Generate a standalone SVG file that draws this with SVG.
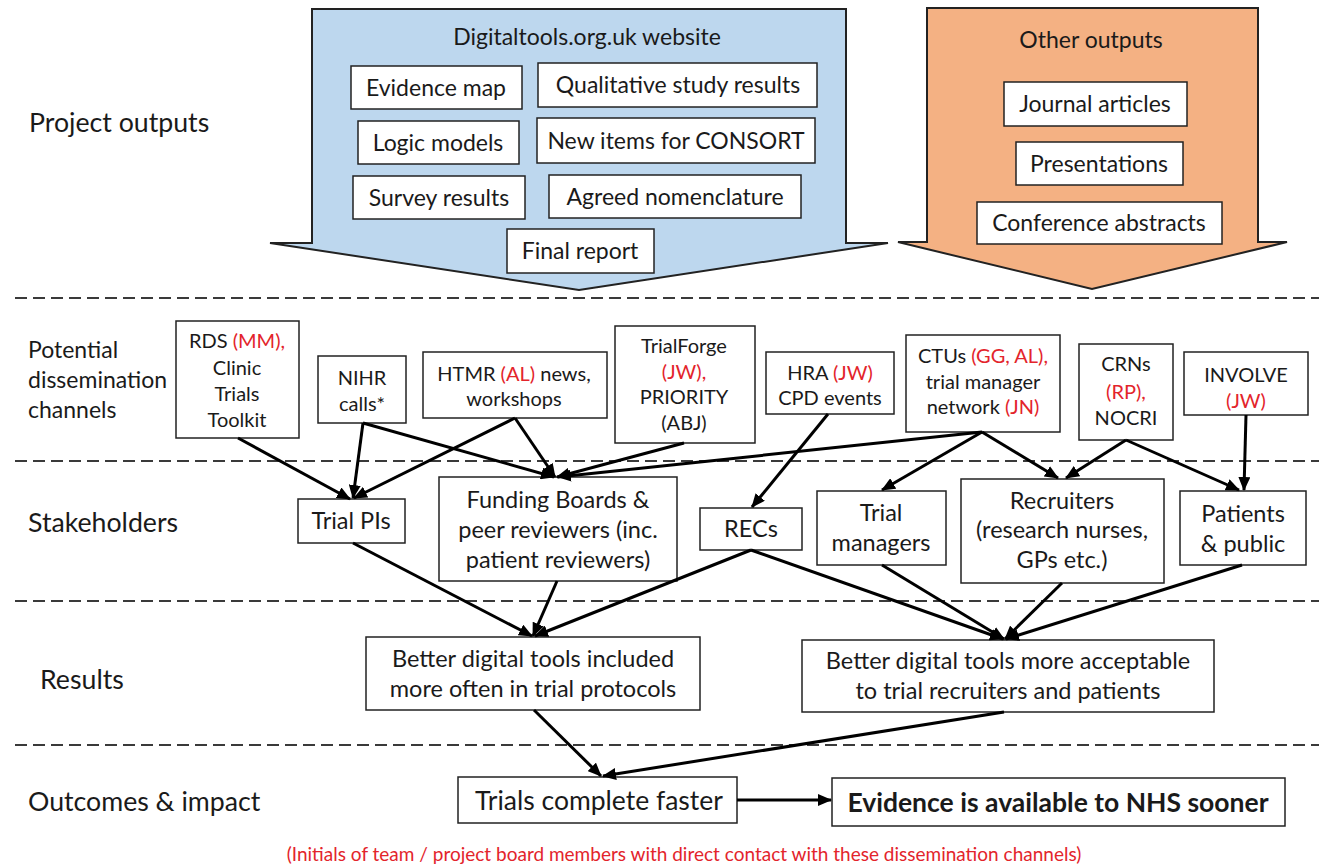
<svg xmlns="http://www.w3.org/2000/svg" width="1319" height="866" viewBox="0 0 1319 866">
<defs>
<marker id="ah" markerUnits="userSpaceOnUse" markerWidth="14" markerHeight="12" refX="13" refY="6" orient="auto">
<path d="M0,0 L14,6 L0,12 Z" fill="#000"/>
</marker>
<style>
text{font-family:Lato,"Liberation Sans",sans-serif;fill:#1a1a1a;text-anchor:middle}
.lbl{text-anchor:start;font-size:26.7px}
.box{fill:#fff;stroke:#222;stroke-width:1.5}
.t23{font-size:23px}
.t20{font-size:20px}
.t235{font-size:23.5px}
.red{fill:#e3242b}
.dash{stroke:#3a3a3a;stroke-width:2;stroke-dasharray:12 6;fill:none}
.con line{stroke:#000;stroke-width:3;marker-end:url(#ah)}
</style>
</defs>
<rect width="1319" height="866" fill="#fff"/>

<g id="dividers">
<line class="dash" x1="15" y1="298" x2="1319" y2="298"/>
<line class="dash" x1="15" y1="461" x2="1319" y2="461"/>
<line class="dash" x1="15" y1="601" x2="1319" y2="601"/>
<line class="dash" x1="15" y1="745" x2="1319" y2="745"/>
</g>

<g id="row-labels">
<text class="lbl" x="29" y="132">Project outputs</text>
<text class="lbl" x="28" y="358" style="font-size:23px">Potential</text>
<text class="lbl" x="28" y="388" style="font-size:23px">dissemination</text>
<text class="lbl" x="28" y="418" style="font-size:23px">channels</text>
<text class="lbl" x="28" y="532">Stakeholders</text>
<text class="lbl" x="40" y="689">Results</text>
<text class="lbl" x="28" y="811">Outcomes &amp; impact</text>
</g>

<g id="website-arrow">
<path d="M312,9 L846,9 L846,243 L888,243 L579,290 L270,243 L312,243 Z" fill="#bdd7ee" stroke="#222" stroke-width="2"/>
<text class="t23" x="587" y="45">Digitaltools.org.uk website</text>
</g>
<g id="evidence-map"><rect class="box" x="351" y="66" width="171" height="43"/><text class="t23" x="436" y="96">Evidence map</text></g>
<g id="qualitative"><rect class="box" x="538" y="63" width="279" height="44"/><text class="t23" x="678" y="93">Qualitative study results</text></g>
<g id="logic-models"><rect class="box" x="358" y="121" width="161" height="43"/><text class="t23" x="438" y="151">Logic models</text></g>
<g id="consort"><rect class="box" x="537" y="118" width="278" height="45"/><text class="t23" x="676" y="149">New items for CONSORT</text></g>
<g id="survey"><rect class="box" x="353" y="176" width="172" height="43"/><text class="t23" x="439" y="206">Survey results</text></g>
<g id="nomenclature"><rect class="box" x="549" y="175" width="252" height="43"/><text class="t23" x="675" y="205">Agreed nomenclature</text></g>
<g id="final-report"><rect class="box" x="507" y="229" width="147" height="44"/><text class="t23" x="580" y="259">Final report</text></g>

<g id="other-arrow">
<path d="M927,8 L1258,8 L1258,242 L1287,242 L1092,289 L898,242 L927,242 Z" fill="#f4b183" stroke="#222" stroke-width="2"/>
<text class="t23" x="1091" y="48">Other outputs</text>
</g>
<g id="journal"><rect class="box" x="1004" y="82" width="183" height="44"/><text class="t23" x="1095" y="112">Journal articles</text></g>
<g id="presentations"><rect class="box" x="1016" y="142" width="167" height="43"/><text class="t23" x="1099" y="172">Presentations</text></g>
<g id="abstracts"><rect class="box" x="977" y="202" width="245" height="42"/><text class="t23" x="1099" y="231">Conference abstracts</text></g>

<g id="rds"><rect class="box" x="176" y="321" width="123" height="117"/>
<text class="t20" x="237" y="348">RDS <tspan class="red">(MM),</tspan></text>
<text class="t20" x="237" y="375">Clinic</text>
<text class="t20" x="237" y="401">Trials</text>
<text class="t20" x="237" y="427">Toolkit</text></g>
<g id="nihr"><rect class="box" x="318" y="356" width="88" height="67"/>
<text class="t20" x="362" y="385">NIHR</text>
<text class="t20" x="362" y="411">calls*</text></g>
<g id="htmr"><rect class="box" x="423" y="352" width="184" height="66"/>
<text class="t20" x="514" y="381">HTMR <tspan class="red">(AL)</tspan> news,</text>
<text class="t20" x="514" y="406">workshops</text></g>
<g id="trialforge"><rect class="box" x="615" y="326" width="140" height="117"/>
<text class="t20" x="684" y="353">TrialForge</text>
<text class="t20 red" x="684" y="379">(JW),</text>
<text class="t20" x="684" y="404">PRIORITY</text>
<text class="t20" x="684" y="430">(ABJ)</text></g>
<g id="hra"><rect class="box" x="766" y="352" width="128" height="62"/>
<text class="t20" x="830" y="380">HRA <tspan class="red">(JW)</tspan></text>
<text class="t20" x="830" y="405">CPD events</text></g>
<g id="ctus"><rect class="box" x="906" y="335" width="154" height="97"/>
<text class="t20" x="983" y="363">CTUs <tspan class="red">(GG, AL),</tspan></text>
<text class="t20" x="983" y="389">trial manager</text>
<text class="t20" x="983" y="414">network <tspan class="red">(JN)</tspan></text></g>
<g id="crns"><rect class="box" x="1079" y="344" width="94" height="96"/>
<text class="t20" x="1126" y="371">CRNs</text>
<text class="t20 red" x="1126" y="399">(RP),</text>
<text class="t20" x="1126" y="425">NOCRI</text></g>
<g id="involve"><rect class="box" x="1184" y="352" width="124" height="63"/>
<text class="t20" x="1246" y="382">INVOLVE</text>
<text class="t20 red" x="1246" y="408">(JW)</text></g>

<g id="trial-pis"><rect class="box" x="298" y="499" width="107" height="44"/>
<text class="t235" x="351" y="529">Trial PIs</text></g>
<g id="funding"><rect class="box" x="439" y="477" width="238" height="104"/>
<text class="t235" x="558" y="508">Funding Boards &amp;</text>
<text class="t235" x="558" y="538">peer reviewers (inc.</text>
<text class="t235" x="558" y="568">patient reviewers)</text></g>
<g id="recs"><rect class="box" x="700" y="508" width="102" height="42"/>
<text class="t235" x="751" y="537">RECs</text></g>
<g id="trial-managers"><rect class="box" x="817" y="491" width="129" height="74"/>
<text class="t235" x="881" y="521">Trial</text>
<text class="t235" x="881" y="551">managers</text></g>
<g id="recruiters"><rect class="box" x="961" y="479" width="203" height="104"/>
<text class="t235" x="1062" y="509">Recruiters</text>
<text class="t235" x="1062" y="538">(research nurses,</text>
<text class="t235" x="1062" y="568">GPs etc.)</text></g>
<g id="patients"><rect class="box" x="1180" y="491" width="126" height="74"/>
<text class="t235" x="1243" y="522">Patients</text>
<text class="t235" x="1243" y="552">&amp; public</text></g>

<g id="result-protocols"><rect class="box" x="366" y="637" width="334" height="73"/>
<text class="t235" x="533" y="667">Better digital tools included</text>
<text class="t235" x="533" y="697">more often in trial protocols</text></g>
<g id="result-acceptable"><rect class="box" x="802" y="640" width="412" height="72"/>
<text class="t235" x="1008" y="669">Better digital tools more acceptable</text>
<text class="t235" x="1008" y="699">to trial recruiters and patients</text></g>

<g id="trials-faster"><rect class="box" x="458" y="777" width="279" height="46"/>
<text x="599" y="810" style="font-size:26.5px">Trials complete faster</text></g>
<g id="evidence-sooner"><rect class="box" x="832" y="778" width="453" height="48"/>
<text x="1058" y="812" style="font-size:26.5px;font-weight:bold">Evidence is available to NHS sooner</text></g>

<g id="connectors" class="con">
<line x1="238" y1="438" x2="350" y2="499"/>
<line x1="363" y1="423" x2="353" y2="498"/>
<line x1="515" y1="418" x2="354" y2="498"/>
<line x1="363" y1="423" x2="554" y2="477"/>
<line x1="515" y1="418" x2="555" y2="477"/>
<line x1="684" y1="443" x2="557" y2="477"/>
<line x1="982" y1="432" x2="558" y2="477"/>
<line x1="828" y1="414" x2="752" y2="507"/>
<line x1="982" y1="432" x2="882" y2="490"/>
<line x1="982" y1="432" x2="1058" y2="478"/>
<line x1="1126" y1="440" x2="1066" y2="478"/>
<line x1="1126" y1="440" x2="1239" y2="490"/>
<line x1="1246" y1="415" x2="1244" y2="490"/>
<line x1="353" y1="543" x2="532" y2="636"/>
<line x1="557" y1="581" x2="533" y2="636"/>
<line x1="751" y1="550" x2="535" y2="636"/>
<line x1="751" y1="550" x2="1003" y2="639"/>
<line x1="882" y1="565" x2="1004" y2="639"/>
<line x1="1062" y1="583" x2="1005" y2="639"/>
<line x1="1242" y1="565" x2="1006" y2="639"/>
<line x1="534" y1="710" x2="601" y2="776"/>
<line x1="1004" y1="712" x2="603" y2="776"/>
<line x1="737" y1="800" x2="831" y2="800"/>
</g>

<g id="footnote">
<text x="684" y="861" class="red" style="font-size:19px">(Initials of team / project board members with direct contact with these dissemination channels)</text>
</g>
</svg>
